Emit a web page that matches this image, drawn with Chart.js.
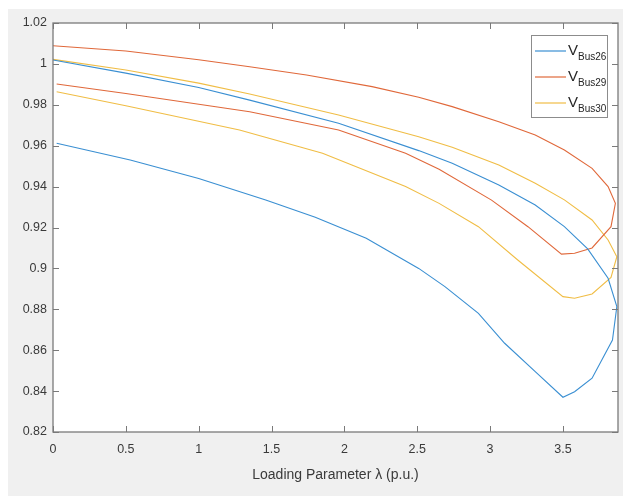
<!DOCTYPE html>
<html>
<head>
<meta charset="utf-8">
<script src="https://cdn.jsdelivr.net/npm/chart.js@4.4.0/dist/chart.umd.min.js"></script>
<style>
  html, body { margin: 0; padding: 0; background: #fff; }
</style>
</head>
<body>
<canvas id="myChart" width="623" height="496"></canvas>
<script>
// PV curves, traced along the upper branch to the nose, then back along the lower branch
const bus26Lambda = [0, 0.5, 1.0, 1.35, 1.96, 2.51, 2.74, 3.06, 3.31, 3.51, 3.67, 3.81, 3.87,
    3.84, 3.70, 3.58, 3.50, 3.31, 3.10, 2.92, 2.69, 2.51, 2.15, 1.80, 1.46, 1.00, 0.53, 0.025];
const bus26Volt = [1.0019, 0.9955, 0.9885, 0.9823, 0.9710, 0.9576, 0.9514, 0.9408, 0.9310, 0.9204, 0.9095, 0.8952, 0.8813,
    0.8650, 0.8463, 0.8397, 0.8370, 0.8495, 0.8634, 0.8780, 0.8911, 0.9000, 0.9147, 0.9250, 0.9334, 0.9440, 0.9530, 0.9612];

const bus29Lambda = [0, 0.5, 1.0, 1.35, 1.74, 2.19, 2.51, 2.74, 3.06, 3.31, 3.51, 3.70, 3.81, 3.86,
    3.83, 3.70, 3.58, 3.49, 3.26, 3.01, 2.65, 2.42, 1.96, 1.35, 0.5, 0.025];
const bus29Volt = [1.0089, 1.0063, 1.0020, 0.9986, 0.9946, 0.9889, 0.9837, 0.9791, 0.9717, 0.9652, 0.9579, 0.9489, 0.9400, 0.9318,
    0.9204, 0.9100, 0.9074, 0.9070, 0.9204, 0.9334, 0.9485, 0.9563, 0.9677, 0.9766, 0.9855, 0.9902];

const bus30Lambda = [0, 0.5, 1.0, 1.35, 1.96, 2.51, 2.74, 3.06, 3.31, 3.51, 3.70, 3.81, 3.87,
    3.83, 3.70, 3.58, 3.50, 3.19, 2.92, 2.65, 2.42, 1.85, 1.28, 0.5, 0.025];
const bus30Volt = [1.0022, 0.9970, 0.9906, 0.9853, 0.9750, 0.9644, 0.9592, 0.9506, 0.9416, 0.9335, 0.9237, 0.9139, 0.9057,
    0.8956, 0.8875, 0.8854, 0.8862, 0.9041, 0.9204, 0.9318, 0.9400, 0.9563, 0.9677, 0.9795, 0.9864];

const seriesNames = ['Bus26', 'Bus29', 'Bus30'];
const seriesColors = ['#3a8fd2', '#e0683a', '#f0bd45'];

const xTitle = 'Loading Parameter λ (p.u.)';

function toPoints(xs, ys) {
    return xs.map((x, i) => ({ x: x, y: ys[i] }));
}

const allLambda = [bus26Lambda, bus29Lambda, bus30Lambda];
const allVolt = [bus26Volt, bus29Volt, bus30Volt];

const data = {
    datasets: seriesNames.map((name, i) => ({
        label: 'V' + name,
        sub: name,
        data: toPoints(allLambda[i], allVolt[i]),
        borderColor: seriesColors[i],
        backgroundColor: seriesColors[i],
        borderWidth: 1.1,
        pointRadius: 0,
        showLine: true,
        tension: 0,
        fill: false,
    })),
};

const axisColor = '#7a7a7a';
const labelColor = '#3a3a3a';
const fontFamily = '"Liberation Sans", Arial, Helvetica, sans-serif';

// background panel, white axes box, inward ticks and the MATLAB-like legend
const matlabLook = {
    id: 'matlabLook',
    beforeDraw(chart) {
        const c = chart.ctx;
        const a = chart.chartArea;
        c.save();
        c.fillStyle = '#ffffff';
        c.fillRect(0, 0, chart.width, chart.height);
        c.fillStyle = '#f0f0f0';
        c.fillRect(8, 9, chart.width - 8, chart.height - 9);
        c.fillStyle = '#ffffff';
        c.fillRect(a.left, a.top, a.right - a.left, a.bottom - a.top);
        c.restore();
    },
    afterDraw(chart) {
        const c = chart.ctx;
        const a = chart.chartArea;
        const xs = chart.scales.x;
        const ys = chart.scales.y;
        const tl = 6;
        c.save();
        c.strokeStyle = axisColor;
        c.lineWidth = 1;
        c.beginPath();
        xs.ticks.forEach(t => {
            const px = Math.round(xs.getPixelForValue(t.value)) + 0.5;
            c.moveTo(px, a.bottom); c.lineTo(px, a.bottom - tl);
            c.moveTo(px, a.top); c.lineTo(px, a.top + tl);
        });
        ys.ticks.forEach(t => {
            const py = Math.round(ys.getPixelForValue(t.value)) + 0.5;
            c.moveTo(a.left, py); c.lineTo(a.left + tl, py);
            c.moveTo(a.right, py); c.lineTo(a.right - tl, py);
        });
        c.stroke();
        c.lineWidth = 1.3;
        c.strokeRect(a.left, a.top, a.right - a.left, a.bottom - a.top);

        // legend
        const bx = a.right - 87, by = a.top + 12, bw = 76, bh = 82;
        c.fillStyle = '#ffffff';
        c.fillRect(bx, by, bw, bh);
        c.strokeStyle = '#8c8c8c';
        c.lineWidth = 1;
        c.strokeRect(bx + 0.5, by + 0.5, bw, bh);
        chart.data.datasets.forEach((ds, i) => {
            const ly = by + 16 + i * 26;
            c.strokeStyle = ds.borderColor;
            c.lineWidth = 1.2;
            c.beginPath();
            c.moveTo(bx + 4, ly);
            c.lineTo(bx + 35, ly);
            c.stroke();
            c.fillStyle = '#262626';
            c.textBaseline = 'middle';
            c.textAlign = 'left';
            c.font = '15px ' + fontFamily;
            c.fillText('V', bx + 37, ly);
            const vw = c.measureText('V').width;
            c.font = '10px ' + fontFamily;
            c.fillText(ds.sub, bx + 37 + vw, ly + 6);
        });
        c.restore();
    },
};

const fmt = v => String(Number(v.toFixed(2)));

const config = {
    type: 'scatter',
    data: data,
    options: {
        responsive: false,
        animation: false,
        events: [],
        layout: { padding: { top: 23, right: 5, left: 0, bottom: 0 } },
        plugins: {
            legend: { display: false },
            tooltip: { enabled: false },
        },
        scales: {
            x: {
                type: 'linear',
                min: 0,
                max: 3.878,
                grid: { display: false, drawTicks: false },
                border: { display: false },
                ticks: {
                    stepSize: 0.5,
                    includeBounds: false,
                    padding: 10,
                    color: labelColor,
                    font: { family: fontFamily, size: 12.5 },
                    maxRotation: 0,
                    callback: fmt,
                },
                title: {
                    display: true,
                    text: xTitle,
                    color: labelColor,
                    font: { family: fontFamily, size: 14 },
                    padding: { top: 4, bottom: 12 },
                },
                afterFit(scale) { scale.height = 64; },
            },
            y: {
                type: 'linear',
                min: 0.82,
                max: 1.02,
                grid: { display: false, drawTicks: false },
                border: { display: false },
                ticks: {
                    stepSize: 0.02,
                    padding: 6,
                    color: labelColor,
                    font: { family: fontFamily, size: 12.5 },
                    callback: fmt,
                },
                afterFit(scale) { scale.width = 53; },
            },
        },
    },
    plugins: [matlabLook],
};

const ctx = document.getElementById('myChart').getContext('2d');
const myChart = new Chart(ctx, config);
</script>
</body>
</html>
